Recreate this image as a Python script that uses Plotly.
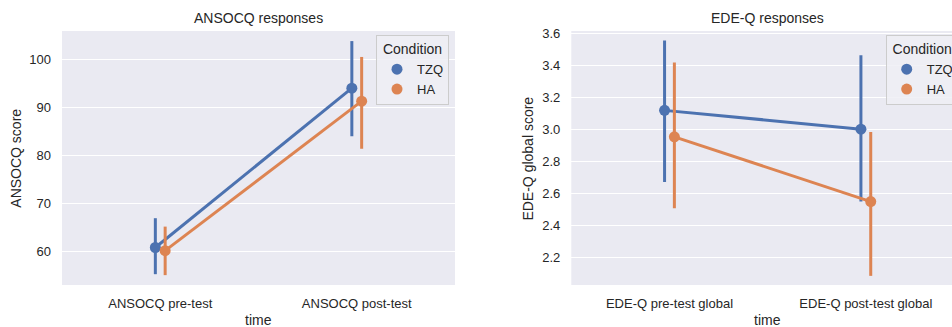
import plotly.graph_objects as go

# ---- data ----
ansocq_times = ["ANSOCQ pre-test", "ANSOCQ post-test"]
ansocq_tzq_mean = [60.85, 94.0]
ansocq_tzq_lo = [55.3, 84.0]
ansocq_tzq_hi = [66.95, 103.8]
ansocq_ha_mean = [60.2, 91.3]
ansocq_ha_lo = [55.1, 81.4]
ansocq_ha_hi = [65.2, 100.5]

edeq_times = ["EDE-Q pre-test global", "EDE-Q post-test global"]
edeq_tzq_mean = [3.119, 3.002]
edeq_tzq_lo = [2.672, 2.55]
edeq_tzq_hi = [3.555, 3.462]
edeq_ha_mean = [2.954, 2.55]
edeq_ha_lo = [2.509, 2.087]
edeq_ha_hi = [3.418, 2.984]

conditions = ["TZQ", "HA"]
colors = {"TZQ": "#4C72B0", "HA": "#DD8452"}
dodge = {"TZQ": -0.025, "HA": 0.025}

FONT = "Liberation Sans, Arial, sans-serif"
TXT = "#262626"
BG = "#EAEAF2"

W, H = 975, 327
PW = 964  # plot region width (l=0, r=W-PW)
T, B = 31, 42
PH = H - T - B

fig = go.Figure()


def add_series(name, means, lo, hi, xa, ya, legend):
    xs = [i + dodge[name] for i in range(len(means))]
    fig.add_trace(go.Scatter(
        x=xs, y=means, mode="lines+markers",
        line=dict(color=colors[name], width=3),
        marker=dict(color=colors[name], size=11),
        error_y=dict(type="data", symmetric=False,
                     array=[h - m for h, m in zip(hi, means)],
                     arrayminus=[m - l for m, l in zip(means, lo)],
                     color=colors[name], thickness=3, width=0),
        xaxis=xa, yaxis=ya, showlegend=False, hoverinfo="skip"))
    fig.add_trace(go.Scatter(
        x=[None], y=[None], mode="markers", name=name,
        marker=dict(color=colors[name], size=11),
        xaxis=xa, yaxis=ya, legend=legend, showlegend=True))


series = {
    ("x", "y", "legend"): (ansocq_tzq_mean, ansocq_tzq_lo, ansocq_tzq_hi,
                           ansocq_ha_mean, ansocq_ha_lo, ansocq_ha_hi),
    ("x2", "y2", "legend2"): (edeq_tzq_mean, edeq_tzq_lo, edeq_tzq_hi,
                              edeq_ha_mean, edeq_ha_lo, edeq_ha_hi),
}
for (xa, ya, lg), (tm, tl, th, hm, hl, hh) in series.items():
    add_series("TZQ", tm, tl, th, xa, ya, lg)
    add_series("HA", hm, hl, hh, xa, ya, lg)

left_dom = [62 / PW, 455 / PW]
right_dom = [571.3 / PW, 1.0]

axis_common = dict(zeroline=False, showline=False, ticks="",
                   tickfont=dict(family=FONT, size=13, color=TXT),
                   automargin=False)

fig.update_layout(
    width=W, height=H,
    margin=dict(l=0, r=W - PW, t=T, b=B),
    paper_bgcolor="white", plot_bgcolor=BG,
    font=dict(family=FONT, color=TXT),
    xaxis=dict(domain=left_dom, range=[-0.5, 1.5], tickvals=[0, 1],
               ticktext=ansocq_times, anchor="y", showgrid=False,
               ticklabelstandoff=9, **axis_common),
    yaxis=dict(domain=[0, 1], range=[53.05, 105.9], tickvals=[60, 70, 80, 90, 100],
               anchor="x", ticklabelstandoff=10, showgrid=True,
               gridcolor="white", gridwidth=1.3, **axis_common),
    xaxis2=dict(domain=right_dom, range=[-0.5, 1.5], tickvals=[0, 1],
                ticktext=edeq_times, anchor="y2", showgrid=False,
                ticklabelstandoff=9, **axis_common),
    yaxis2=dict(domain=[0, 1], range=[2.03, 3.614],
                tickvals=[2.2, 2.4, 2.6, 2.8, 3.0, 3.2, 3.4, 3.6],
                ticktext=["2.2", "2.4", "2.6", "2.8", "3.0", "3.2", "3.4", "3.6"],
                anchor="x2", ticklabelstandoff=10, showgrid=True,
                gridcolor="white", gridwidth=1.3, **axis_common),
)

legend_style = dict(
    bgcolor="rgba(238,238,244,0.85)", bordercolor="#CCCCCC", borderwidth=1,
    font=dict(family=FONT, size=13, color=TXT),
    title=dict(text="Condition", side="top center",
               font=dict(family=FONT, size=14, color=TXT)),
    xanchor="left", yanchor="top", itemwidth=30, tracegroupgap=0,
)
fig.update_layout(
    legend=dict(x=376 / PW, y=(H - B - 35) / PH, **legend_style),
    legend2=dict(x=885.7 / PW, y=(H - B - 35) / PH, **legend_style),
)


def ann(text, xpx, ypx, size, angle=0):
    fig.add_annotation(text=text, xref="paper", yref="paper",
                       x=xpx / PW, y=(H - B - ypx) / PH,
                       xanchor="center", yanchor="middle", showarrow=False,
                       textangle=angle,
                       font=dict(family=FONT, size=size, color=TXT))


ann("ANSOCQ responses", 258.5, 17.7, 14)
ann("EDE-Q responses", 767.6, 17.7, 14)
ann("time", 258.5, 320, 14)
ann("time", 767.6, 320, 14)
ann("ANSOCQ score", 15.7, 158, 14, -90)
ann("EDE-Q global score", 528.3, 158.3, 14, -90)

fig.write_html("out.html",
               post_script="document.documentElement.style.overflow='hidden';"
                           "document.body.style.overflow='hidden';")
